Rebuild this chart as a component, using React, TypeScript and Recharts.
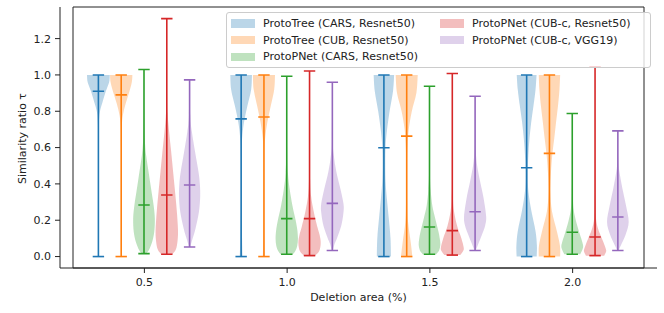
import React from "react";
import { ComposedChart, Bar, XAxis, YAxis, Legend, Label, ReferenceArea } from "recharts";

const areas = ["0.5", "1.0", "1.5", "2.0"];
const methods = [
  "ProtoTree (CARS, Resnet50)",
  "ProtoTree (CUB, Resnet50)",
  "ProtoPNet (CARS, Resnet50)",
  "ProtoPNet (CUB-c, Resnet50)",
  "ProtoPNet (CUB-c, VGG19)",
];
const colors = ["#1f77b4", "#ff7f0e", "#2ca02c", "#d62728", "#9467bd"];
const yTicks = [0, 0.2, 0.4, 0.6, 0.8, 1.0, 1.2];
const yDomain = [-0.063, 1.374];

// per method, per deletion area
const mins = [
  [0, 0, 0, 0],
  [0, 0, 0, 0],
  [0.016, 0.013, 0.013, 0.013],
  [0.013, 0.005, 0.008, 0.005],
  [0.053, 0.033, 0.033, 0.033],
];
const maxs = [
  [1, 1, 1, 1],
  [1, 1, 1, 1],
  [1.03, 0.993, 0.938, 0.788],
  [1.31, 1.022, 1.008, 1.045],
  [0.973, 0.96, 0.883, 0.692],
];
const medians = [
  [0.91, 0.758, 0.599, 0.489],
  [0.89, 0.768, 0.663, 0.568],
  [0.284, 0.209, 0.163, 0.134],
  [0.339, 0.209, 0.143, 0.108],
  [0.394, 0.293, 0.247, 0.218],
];

// violin outlines: [value, relative width]
const protoTreeCars = [
  [[0, 0.02], [0.6, 0.02], [0.74, 0.05], [0.8, 0.14], [0.85, 0.36], [0.91, 0.65], [0.96, 0.94], [1.0, 1.0]],
  [[0, 0.12], [0.1, 0.08], [0.3, 0.04], [0.55, 0.04], [0.65, 0.08], [0.74, 0.25], [0.83, 0.55], [0.92, 0.88], [1.0, 0.95]],
  [[0, 0.62], [0.1, 0.58], [0.21, 0.43], [0.32, 0.26], [0.41, 0.15], [0.5, 0.12], [0.6, 0.14], [0.69, 0.26], [0.8, 0.5], [0.91, 0.8], [1.0, 0.9]],
  [[0, 0.88], [0.06, 0.9], [0.14, 0.78], [0.25, 0.42], [0.36, 0.15], [0.46, 0.1], [0.56, 0.15], [0.65, 0.25], [0.74, 0.4], [0.83, 0.6], [0.92, 0.78], [1.0, 0.87]],
];
const protoTreeCub = [
  [[0, 0.02], [0.6, 0.03], [0.72, 0.06], [0.78, 0.15], [0.84, 0.38], [0.9, 0.68], [0.96, 0.93], [1.0, 0.98]],
  [[0, 0.1], [0.1, 0.06], [0.3, 0.04], [0.55, 0.04], [0.65, 0.1], [0.74, 0.3], [0.83, 0.6], [0.92, 0.9], [1.0, 0.97]],
  [[0, 0.5], [0.08, 0.35], [0.19, 0.12], [0.3, 0.06], [0.5, 0.05], [0.61, 0.08], [0.7, 0.18], [0.8, 0.45], [0.9, 0.85], [1.0, 0.97]],
  [[0, 0.94], [0.06, 0.92], [0.14, 0.65], [0.25, 0.22], [0.36, 0.08], [0.46, 0.13], [0.56, 0.25], [0.65, 0.42], [0.74, 0.58], [0.83, 0.75], [0.92, 0.88], [1.0, 0.94]],
];
const protoPNetCars = [
  [[0.016, 0.2], [0.036, 0.43], [0.082, 0.72], [0.137, 0.9], [0.21, 0.95], [0.284, 0.84], [0.375, 0.62], [0.467, 0.4], [0.56, 0.18], [0.65, 0.07], [0.8, 0.02], [1.03, 0.01]],
  [[0.013, 0.55], [0.03, 0.75], [0.06, 0.92], [0.1, 0.98], [0.15, 0.92], [0.2, 0.78], [0.28, 0.5], [0.37, 0.26], [0.46, 0.1], [0.6, 0.03], [0.993, 0.01]],
  [[0.013, 0.6], [0.035, 0.85], [0.065, 0.95], [0.1, 0.9], [0.14, 0.78], [0.21, 0.5], [0.28, 0.25], [0.37, 0.1], [0.5, 0.03], [0.938, 0.01]],
  [[0.013, 0.7], [0.05, 0.95], [0.08, 0.88], [0.12, 0.68], [0.19, 0.35], [0.26, 0.12], [0.35, 0.05], [0.5, 0.02], [0.788, 0.01]],
];
const protoPNetCubR = [
  [[0.013, 0.5], [0.04, 0.8], [0.09, 0.95], [0.15, 0.98], [0.25, 0.88], [0.36, 0.72], [0.47, 0.55], [0.58, 0.38], [0.69, 0.2], [0.79, 0.07], [0.9, 0.02], [1.31, 0.01]],
  [[0.005, 0.5], [0.03, 0.85], [0.075, 0.98], [0.12, 0.88], [0.16, 0.7], [0.25, 0.36], [0.33, 0.14], [0.42, 0.05], [0.6, 0.02], [1.022, 0.01]],
  [[0.008, 0.7], [0.03, 0.95], [0.05, 1.0], [0.1, 0.8], [0.17, 0.42], [0.25, 0.15], [0.32, 0.06], [0.45, 0.02], [1.008, 0.01]],
  [[0.005, 0.8], [0.03, 0.98], [0.06, 0.85], [0.1, 0.6], [0.15, 0.28], [0.21, 0.08], [0.3, 0.03], [0.5, 0.01], [1.045, 0.01]],
];
const protoPNetCubV = [
  [[0.053, 0.05], [0.09, 0.22], [0.155, 0.52], [0.247, 0.82], [0.33, 0.93], [0.4, 0.9], [0.467, 0.78], [0.577, 0.48], [0.687, 0.2], [0.78, 0.06], [0.973, 0.01]],
  [[0.033, 0.05], [0.07, 0.2], [0.1, 0.4], [0.17, 0.78], [0.24, 0.97], [0.29, 0.98], [0.375, 0.7], [0.467, 0.35], [0.56, 0.12], [0.65, 0.04], [0.96, 0.01]],
  [[0.033, 0.05], [0.065, 0.25], [0.12, 0.6], [0.17, 0.88], [0.22, 0.97], [0.32, 0.75], [0.41, 0.45], [0.5, 0.18], [0.58, 0.06], [0.7, 0.02], [0.883, 0.01]],
  [[0.033, 0.05], [0.064, 0.28], [0.12, 0.68], [0.19, 0.95], [0.28, 0.72], [0.375, 0.4], [0.45, 0.18], [0.5, 0.07], [0.58, 0.02], [0.692, 0.01]],
];
const profiles = [protoTreeCars, protoTreeCub, protoPNetCars, protoPNetCubR, protoPNetCubV];

const rows = areas.map((area, gi) => {
  const row: any = { area };
  methods.forEach((_, si) => {
    row["s" + si] = [mins[si][gi], maxs[si][gi]];
  });
  return row;
});

const FONT = "DejaVu Sans, sans-serif";
const INK = "#222";

const smooth = (pts: number[][]) => {
  let d = "";
  for (let i = 0; i < pts.length - 1; i++) {
    const p0 = pts[i - 1] || pts[i];
    const p1 = pts[i];
    const p2 = pts[i + 1];
    const p3 = pts[i + 2] || p2;
    const c1x = p1[0] + (p2[0] - p0[0]) / 6;
    const c1y = p1[1] + (p2[1] - p0[1]) / 6;
    const c2x = p2[0] - (p3[0] - p1[0]) / 6;
    const c2y = p2[1] - (p3[1] - p1[1]) / 6;
    d += ` C${c1x},${c1y} ${c2x},${c2y} ${p2[0]},${p2[1]}`;
  }
  return d;
};

const violin = (si: number) => (props: any) => {
  const { x, width, payload } = props;
  const gi = props.index != null ? props.index : areas.indexOf(payload.area);
  const lo = mins[si][gi];
  const hi = maxs[si][gi];
  const top = Math.min(props.y, props.y + props.height);
  const k = Math.abs(props.height) / (hi - lo);
  const yOf = (v: number) => top + (hi - v) * k;
  const cx = x + width / 2;
  const half = width / 2;
  const prof = profiles[si][gi];
  const left = prof.map(([v, w]) => [cx - w * half, yOf(v)]);
  const right = prof
    .slice()
    .reverse()
    .map(([v, w]) => [cx + w * half, yOf(v)]);
  const d =
    `M${left[0][0]},${left[0][1]}` +
    smooth(left) +
    ` L${right[0][0]},${right[0][1]}` +
    smooth(right) +
    " Z";
  const c = colors[si];
  const cap = width / 4;
  const my = yOf(medians[si][gi]);
  return (
    <g>
      <path d={d} fill={c} fillOpacity={0.3} stroke="none" />
      <line x1={cx} x2={cx} y1={yOf(hi)} y2={yOf(lo)} stroke={c} strokeWidth={1.6} />
      <line x1={cx - cap} x2={cx + cap} y1={yOf(hi)} y2={yOf(hi)} stroke={c} strokeWidth={1.6} />
      <line x1={cx - cap} x2={cx + cap} y1={yOf(lo)} y2={yOf(lo)} stroke={c} strokeWidth={1.6} />
      <line x1={cx - cap} x2={cx + cap} y1={my} y2={my} stroke={c} strokeWidth={1.6} />
    </g>
  );
};

const hexA = (hex: string, a: number) => {
  const n = parseInt(hex.slice(1), 16);
  return `rgba(${(n >> 16) & 255},${(n >> 8) & 255},${n & 255},${a})`;
};

const LegendBox = () => {
  const order = [0, 3, 1, 4, 2];
  return (
    <div
      style={{
        boxSizing: "border-box",
        width: 425,
        height: 56,
        border: "1px solid #cccccc",
        borderRadius: 3,
        background: "rgba(255,255,255,0.8)",
        padding: "2px 4px",
        display: "grid",
        gridTemplateColumns: "auto auto",
        gridAutoRows: 16.8,
        columnGap: 22,
        justifyContent: "start",
        fontFamily: FONT,
        fontSize: 11,
        color: INK,
      }}
    >
      {order.map((si) => (
        <div key={si} style={{ display: "flex", alignItems: "center", whiteSpace: "nowrap" }}>
          <span
            style={{
              display: "inline-block",
              width: 24,
              height: 8.4,
              background: hexA(colors[si], 0.3),
              marginRight: 8,
            }}
          />
          {methods[si]}
        </div>
      ))}
    </div>
  );
};

export default function App() {
  const tickStyle = { fontSize: 11, fill: INK, fontFamily: FONT };
  return (
    <div style={{ position: "absolute", left: 0, top: 0, width: 664, height: 313, background: "#fff" }}>
      <ComposedChart
        width={664}
        height={313}
        data={rows}
        margin={{ top: 7, right: 7, bottom: 0, left: 0 }}
        barGap={0}
        barSize={22.8}
      >
        <XAxis
          dataKey="area"
          type="category"
          height={45}
          padding={{ left: 13, right: 13 }}
          tick={tickStyle}
          tickSize={5}
          tickMargin={5}
          axisLine={{ stroke: INK }}
          tickLine={{ stroke: INK }}
        >
          <Label
            content={(p: any) => (
              <text
                x={p.viewBox.x + p.viewBox.width / 2}
                y={p.viewBox.y + 33}
                textAnchor="middle"
                fontSize={11}
                fontFamily={FONT}
                fill={INK}
              >
                Deletion area (%)
              </text>
            )}
          />
        </XAxis>
        <YAxis
          type="number"
          domain={yDomain}
          allowDataOverflow
          ticks={yTicks}
          tickFormatter={(v: number) => v.toFixed(1)}
          width={60}
          tick={tickStyle}
          tickSize={5}
          tickMargin={4}
          axisLine={{ stroke: INK }}
          tickLine={{ stroke: INK }}
        >
          <Label
            content={(p: any) => {
              const cx = p.viewBox.x + 26;
              const cy = p.viewBox.y + p.viewBox.height / 2 + 1;
              return (
                <text
                  x={cx}
                  y={cy}
                  transform={`rotate(-90 ${cx} ${cy})`}
                  textAnchor="middle"
                  fontSize={11}
                  fontFamily={FONT}
                  fill={INK}
                >
                  Similarity ratio τ
                </text>
              );
            }}
          />
        </YAxis>
        <ReferenceArea y1={yDomain[0]} y2={yDomain[1]} fill="none" stroke={INK} strokeWidth={1} ifOverflow="visible" />
        <Legend
          layout="vertical"
          align="center"
          verticalAlign="middle"
          wrapperStyle={{ left: 226, top: 12, width: 425, height: 56 }}
          content={() => <LegendBox />}
        />
        {methods.map((m, si) => (
          <Bar
            key={m}
            name={m}
            dataKey={"s" + si}
            fill={colors[si]}
            shape={violin(si)}
            isAnimationActive={false}
          />
        ))}
      </ComposedChart>
    </div>
  );
}
